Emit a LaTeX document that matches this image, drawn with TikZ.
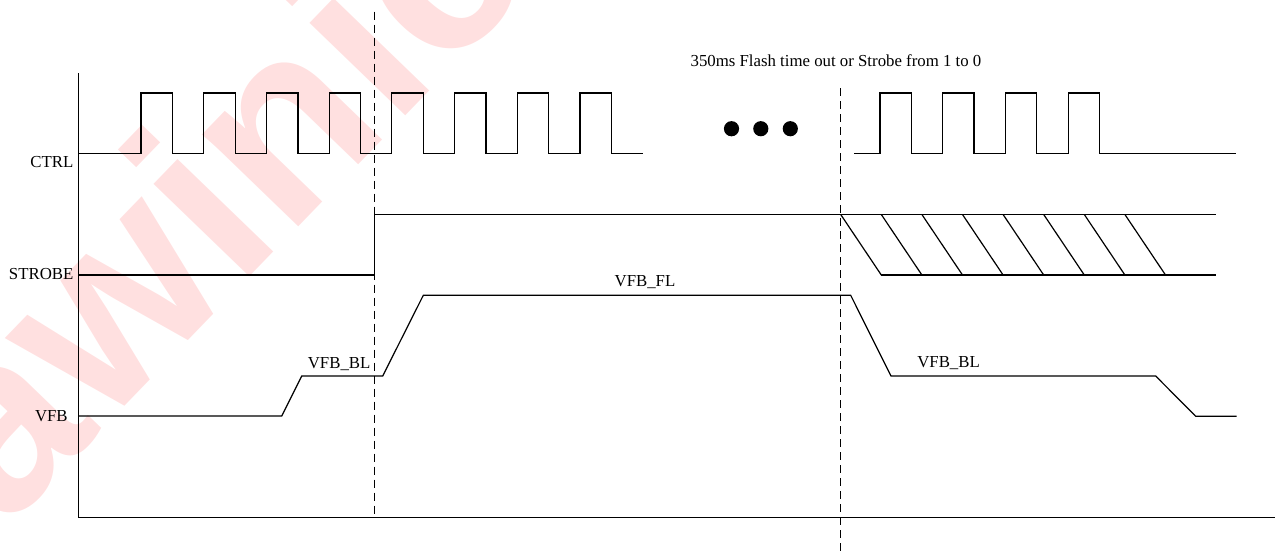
\documentclass[tikz,border=0pt]{standalone}
\usepackage{fontspec}
\setmainfont{Liberation Serif}
\newfontfamily\markfont{Liberation Sans}
\begin{document}
\begin{tikzpicture}[x=0.5pt,y=-0.5pt,line width=0.6pt,
    lbl/.style={inner sep=0pt,font=\fontsize{8.4}{10}\selectfont},
    cut/.style={dash pattern=on 4pt off 2.5pt,line width=0.5pt}]
\path[use as bounding box] (0,0) rectangle (1275,554);
% watermark
\node[rotate=46,text=red!12,font=\markfont\bfseries\fontsize{126}{126}\selectfont] (mark) at (207,192) {awinic};
% axes
\draw (78.3,73) -- (78.3,517.7) -- (1275,517.7);
% CTRL
\draw (78.3,153.3) foreach \k in {0,...,7} {-- (141+62.7*\k,153.3) -- (141+62.7*\k,93) -- (172.5+62.7*\k,93) -- (172.5+62.7*\k,153.3)} -- (642.7,153.3);
\draw (854.3,153.3) foreach \k in {0,...,3} {-- (880+62.7*\k,153.3) -- (880+62.7*\k,93) -- (911.3+62.7*\k,93) -- (911.3+62.7*\k,153.3)} -- (1236,153.3);
\foreach \x in {731.5,760.8,790.3}
    \fill (\x,128.7) circle[radius=7.6];
% STROBE
\draw (78.3,275) -- (374.3,275) -- (374.3,214.5) -- (1216,214.5);
\draw (880.7,275) -- (1216,275);
\foreach \k in {0,...,7}
    \draw (840.7+40.6*\k,214.5) -- (881.3+40.6*\k,275);
% VFB
\draw (78.3,416) -- (281.7,416) -- (301.7,376) -- (382.7,376) -- (423.3,295.3) -- (850.7,295.3)
    -- (891,376) -- (1155.7,376) -- (1195.7,416.3) -- (1236.7,416.3);
% time marks
\draw[cut] (374.3,11.7) -- (374.3,517.7);
\draw[cut] (840.7,88) -- (840.7,554);
% labels
\node[lbl,anchor=base east] (ctrl) at (74,167) {CTRL};
\node[lbl,anchor=base east] (strobe) at (74,279.3) {STROBE};
\node[lbl,anchor=base east] (vfb) at (68.3,421) {VFB};
\node[lbl,anchor=base east] (blone) at (371,368) {VFB\_BL};
\node[lbl,anchor=base] (fl) at (645,286) {VFB\_FL};
\node[lbl,anchor=base west] (bltwo) at (916.7,367) {VFB\_BL};
\node[lbl,anchor=base west] (note) at (690,66.7) {350ms Flash time out or Strobe from 1 to 0};
\end{tikzpicture}
\end{document}
